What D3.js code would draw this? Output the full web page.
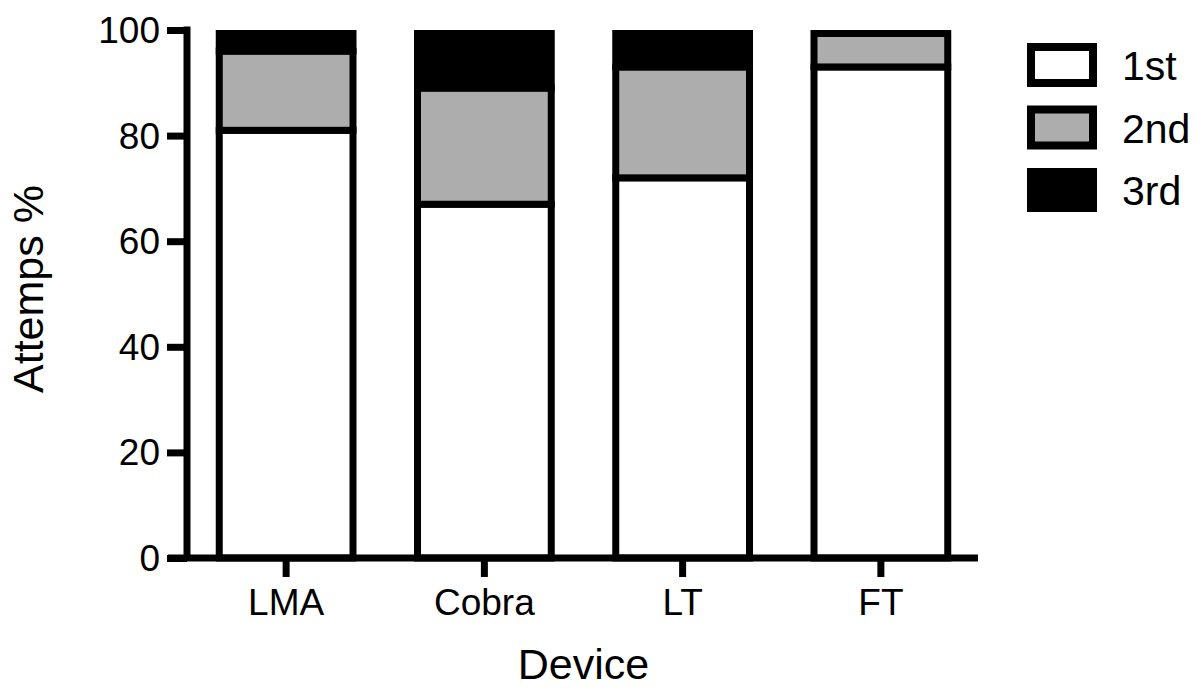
<!DOCTYPE html>
<html>
<head>
<meta charset="utf-8">
<script src="https://cdn.jsdelivr.net/npm/d3@7"></script>
<style>
  body { margin: 0; background: #fff; }
  text { font-family: "Liberation Sans", Arial, sans-serif; fill: #000; }
</style>
</head>
<body>
<div class="visHolder"></div>
<script>
let devices = ['LMA', 'Cobra', 'LT', 'FT'];
let attempts = ['1st', '2nd', '3rd'];
let first = [81, 67, 72, 93];
let second = [15, 22, 21, 7];
let third = [4, 11, 7, 0];
let yTicks = [0, 20, 40, 60, 80, 100];
let colors = ['#ffffff', '#adadad', '#000000'];

let width = 1200;
let height = 699;
let sw = 7;

let svg = d3.select('.visHolder').append('svg')
  .attr('width', width)
  .attr('height', height);

let rows = devices.map((d, i) => ({ device: d, '1st': first[i], '2nd': second[i], '3rd': third[i] }));
let series = d3.stack().keys(attempts)(rows);

let xScale = d3.scaleBand()
  .domain(devices)
  .range([187, 980])
  .paddingInner(0.29)
  .paddingOuter(0.145);

let yScale = d3.scaleLinear()
  .domain([0, 100])
  .range([558, 30]);

// bars
series.forEach((s, k) => {
  svg.append('g')
    .selectAll('rect')
    .data(s.filter(d => d[1] - d[0] > 0))
    .enter()
    .append('rect')
    .attr('x', d => xScale(d.data.device) + sw / 2)
    .attr('width', xScale.bandwidth() - sw)
    .attr('y', d => yScale(d[1]) + (d[1] === 100 ? sw / 2 : 0))
    .attr('height', d => yScale(d[0]) - yScale(d[1]) - (d[1] === 100 ? sw / 2 : 0))
    .attr('fill', colors[k])
    .attr('stroke', '#000')
    .attr('stroke-width', sw);
});

// y axis
let yAxis = d3.axisLeft(yScale).tickValues(yTicks).tickSize(20).tickSizeOuter(0).tickPadding(7);
let gy = svg.append('g')
  .attr('transform', 'translate(187,0)')
  .call(yAxis);
gy.select('.domain').remove();
gy.selectAll('.tick line').attr('stroke', '#000').attr('stroke-width', sw);
gy.selectAll('.tick text').style('font-size', '37px').attr('dy', '0.34em');
gy.append('line')
  .attr('x1', 0).attr('x2', 0)
  .attr('y1', yScale(0)).attr('y2', yScale(100) - sw / 2)
  .attr('stroke', '#000').attr('stroke-width', sw);

// x axis
let xAxis = d3.axisBottom(xScale).tickSize(19).tickSizeOuter(0).tickPadding(12);
let gx = svg.append('g')
  .attr('transform', 'translate(0,' + yScale(0) + ')')
  .call(xAxis);
gx.select('.domain').remove();
gx.selectAll('.tick line').attr('stroke', '#000').attr('stroke-width', sw);
gx.selectAll('.tick text').style('font-size', '37px').attr('dy', '0.71em');
gx.append('line')
  .attr('x1', xScale.range()[0] - 19).attr('x2', xScale.range()[1] - 2)
  .attr('y1', 0).attr('y2', 0)
  .attr('stroke', '#000').attr('stroke-width', sw);

// axis titles
svg.append('text')
  .attr('x', (xScale.range()[0] + xScale.range()[1]) / 2)
  .attr('y', 679)
  .attr('text-anchor', 'middle')
  .style('font-size', '43px')
  .text('Device');

svg.append('text')
  .attr('transform', 'translate(43,' + 289 + ') rotate(-90)')
  .attr('text-anchor', 'middle')
  .style('font-size', '43px')
  .text('Attemps %');

// legend
let legend = svg.append('g').attr('transform', 'translate(1027,43)');
attempts.forEach((a, i) => {
  let g = legend.append('g').attr('transform', 'translate(0,' + i * 62.5 + ')');
  g.append('rect')
    .attr('x', 4).attr('y', 4)
    .attr('width', 62).attr('height', 36)
    .attr('fill', colors[i])
    .attr('stroke', '#000')
    .attr('stroke-width', 8);
  g.append('text')
    .attr('x', 95)
    .attr('y', 37)
    .style('font-size', '41px')
    .text(a);
});
</script>
</body>
</html>
